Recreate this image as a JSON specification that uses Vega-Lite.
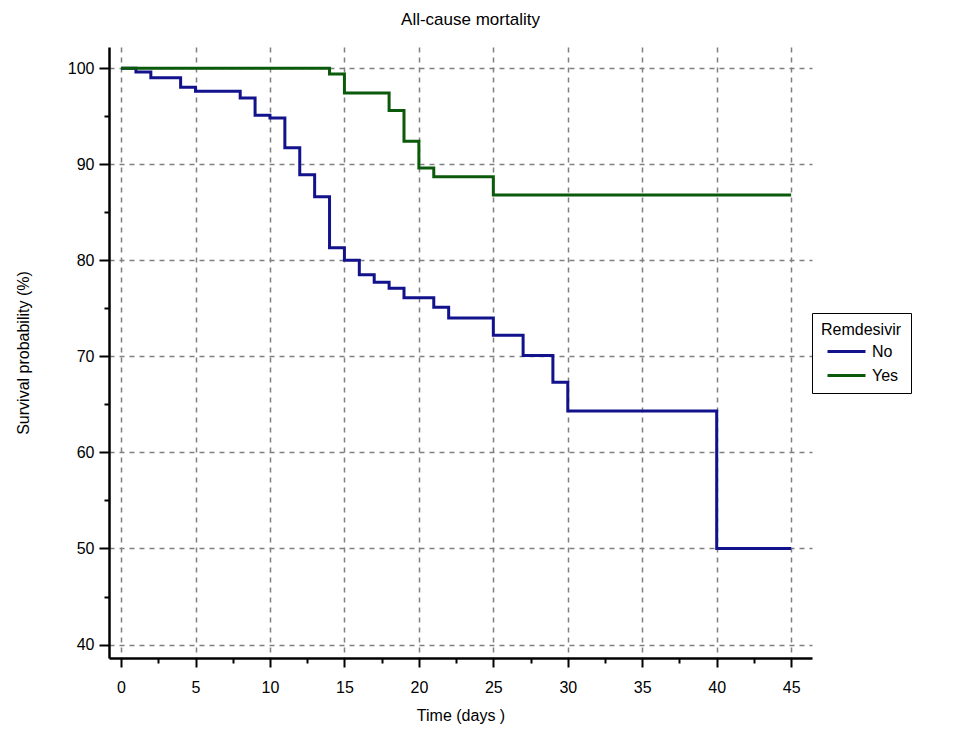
{
  "$schema": "https://vega.github.io/schema/vega-lite/v6.json",
  "autosize": "none",
  "width": 703,
  "height": 611,
  "padding": {"left": 109, "top": 47, "right": 151, "bottom": 72},
  "background": "white",
  "title": {"text": "All-cause mortality", "fontSize": 17, "fontWeight": "normal", "font": "Liberation Sans", "color": "#000", "offset": 18, "dx": 10},
  "config": {
    "view": {"stroke": null},
    "font": "Liberation Sans"
  },
  "data": {"values": [
    {"group": "No", "time": 0, "surv": 100},
    {"group": "No", "time": 1, "surv": 99.6},
    {"group": "No", "time": 2, "surv": 99.0},
    {"group": "No", "time": 4, "surv": 98.0},
    {"group": "No", "time": 5, "surv": 97.6},
    {"group": "No", "time": 8, "surv": 96.9},
    {"group": "No", "time": 9, "surv": 95.1},
    {"group": "No", "time": 10, "surv": 94.8},
    {"group": "No", "time": 11, "surv": 91.7},
    {"group": "No", "time": 12, "surv": 88.9},
    {"group": "No", "time": 13, "surv": 86.6},
    {"group": "No", "time": 14, "surv": 81.3},
    {"group": "No", "time": 15, "surv": 80.0},
    {"group": "No", "time": 16, "surv": 78.5},
    {"group": "No", "time": 17, "surv": 77.7},
    {"group": "No", "time": 18, "surv": 77.1},
    {"group": "No", "time": 19, "surv": 76.1},
    {"group": "No", "time": 21, "surv": 75.1},
    {"group": "No", "time": 22, "surv": 74.0},
    {"group": "No", "time": 25, "surv": 72.2},
    {"group": "No", "time": 27, "surv": 70.1},
    {"group": "No", "time": 29, "surv": 67.3},
    {"group": "No", "time": 30, "surv": 64.3},
    {"group": "No", "time": 40, "surv": 50.0},
    {"group": "No", "time": 45, "surv": 50.0},
    {"group": "Yes", "time": 0, "surv": 100},
    {"group": "Yes", "time": 14, "surv": 99.4},
    {"group": "Yes", "time": 15, "surv": 97.4},
    {"group": "Yes", "time": 18, "surv": 95.6},
    {"group": "Yes", "time": 19, "surv": 92.4},
    {"group": "Yes", "time": 20, "surv": 89.6},
    {"group": "Yes", "time": 21, "surv": 88.7},
    {"group": "Yes", "time": 25, "surv": 86.8},
    {"group": "Yes", "time": 45, "surv": 86.8}
  ]},
  "layer": [
    {
      "mark": {"type": "point", "opacity": 0},
      "encoding": {
        "x": {
          "field": "time", "type": "quantitative",
          "scale": {"domain": [-0.81, 46.4], "nice": false, "zero": false},
          "axis": {
            "orient": "bottom", "offset": 0,
            "values": [2.5, 7.5, 12.5, 17.5, 22.5, 27.5, 32.5, 37.5, 42.5],
            "title": null, "labels": false, "domain": false, "grid": false,
            "tickColor": "#000", "tickWidth": 2, "tickSize": 5
          }
        },
        "y": {
          "field": "surv", "type": "quantitative",
          "scale": {"domain": [38.6, 102.2], "nice": false, "zero": false},
          "axis": {
            "orient": "left", "offset": 0,
            "values": [45, 55, 65, 75, 85, 95],
            "title": null, "labels": false, "domain": false, "grid": false,
            "tickColor": "#000", "tickWidth": 2, "tickSize": 5
          }
        }
      }
    },
    {
      "mark": {"type": "line", "interpolate": "step-after", "strokeWidth": 3},
      "encoding": {
        "x": {
          "field": "time", "type": "quantitative",
          "axis": {
            "orient": "bottom", "offset": 0,
            "values": [0, 5, 10, 15, 20, 25, 30, 35, 40, 45],
            "title": "Time (days )",
            "titleFontSize": 16, "titleFontWeight": "normal", "titleColor": "#000", "titlePadding": 12,
            "labelFontSize": 16, "labelColor": "#000", "labelPadding": 12, "labelFlush": false,
            "domainColor": "#000", "domainWidth": 2.5,
            "tickColor": "#000", "tickWidth": 2, "tickSize": 9,
            "grid": true, "gridColor": "#808080", "gridDash": [5, 5], "gridWidth": 1.5
          }
        },
        "y": {
          "field": "surv", "type": "quantitative",
          "axis": {
            "orient": "left", "offset": 0,
            "values": [40, 50, 60, 70, 80, 90, 100],
            "title": "Survival probability (%)",
            "titleFontSize": 16, "titleFontWeight": "normal", "titleColor": "#000", "titlePadding": 36,
            "labelFontSize": 16, "labelColor": "#000", "labelPadding": 5, "labelFlush": false,
            "domainColor": "#000", "domainWidth": 2.5,
            "tickColor": "#000", "tickWidth": 2, "tickSize": 10,
            "grid": true, "gridColor": "#808080", "gridDash": [5, 5], "gridWidth": 1.5
          }
        },
        "color": {
          "field": "group", "type": "nominal",
          "scale": {"domain": ["No", "Yes"], "range": ["#12128c", "#0b5a0b"]},
          "legend": {
            "title": "Remdesivir", "orient": "none", "legendX": 703, "legendY": 266,
            "titleFontSize": 16, "titleFontWeight": "normal", "titleColor": "#000",
            "labelFontSize": 16, "labelColor": "#000",
            "symbolType": "M-1.9,0H1.9", "symbolSize": 400, "symbolStrokeWidth": 3,
            "symbolOffset": 14, "labelOffset": 14,
            "strokeColor": "#000", "padding": 9, "fillColor": "white",
            "rowPadding": 4, "titlePadding": 2
          }
        }
      }
    }
  ],
  "resolve": {"axis": {"x": "independent", "y": "independent"}}
}
